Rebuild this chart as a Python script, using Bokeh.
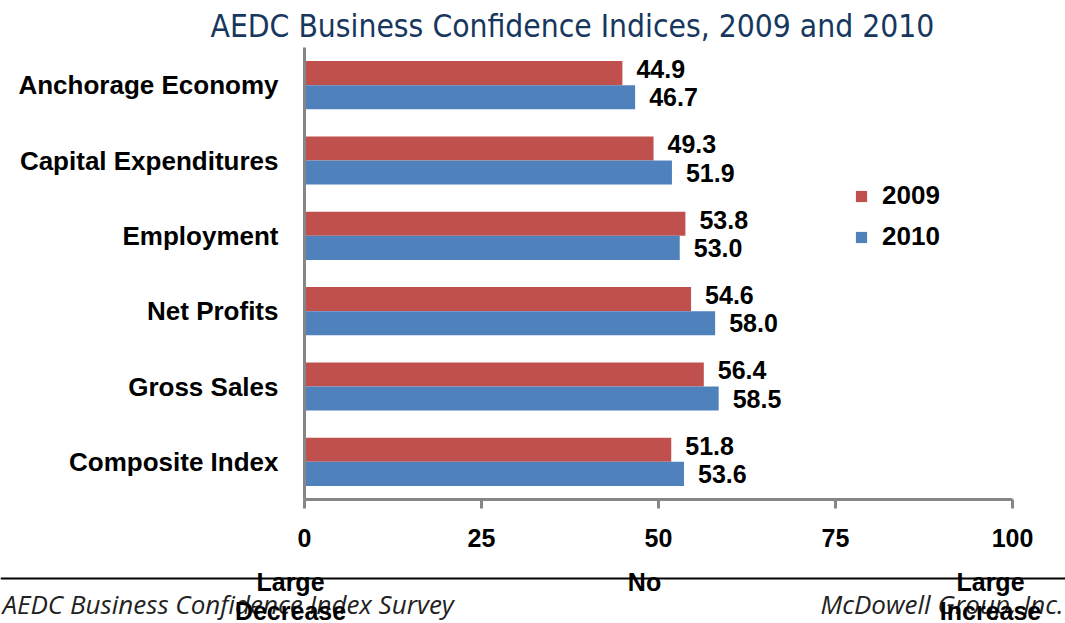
from bokeh.plotting import figure
from bokeh.layouts import column
from bokeh.models import (FactorRange, Label, Legend, LegendItem, FixedTicker,
                          Span, ColumnDataSource, Range1d)
from bokeh.transform import dodge
from bokeh.core.properties import value
from bokeh.embed import file_html
from bokeh.resources import INLINE

categories = ["Anchorage Economy", "Capital Expenditures", "Employment",
              "Net Profits", "Gross Sales", "Composite Index"]
values_2009 = [44.9, 49.3, 53.8, 54.6, 56.4, 51.8]
values_2010 = [46.7, 51.9, 53.0, 58.0, 58.5, 53.6]
x_ticks = [0, 25, 50, 75, 100]
scale_positions = [0, 50, 100]
scale_labels = ["Large\nDecrease", "No", "Large\nIncrease"]
title_text = "AEDC Business Confidence Indices, 2009 and 2010"
footer_left = "AEDC Business Confidence Index Survey"
footer_right = "McDowell Group, Inc."

RED = "#C0504D"
BLUE = "#4F81BD"
GRAY = "#868686"
BOLD = "Liberation Sans"

W = 1065
H_MAIN = 560
H_FOOT = 63
FRAME_L, FRAME_R = 304, 53
PX_PER_UNIT = (W - FRAME_L - FRAME_R) / 100.0

src = ColumnDataSource(dict(cat=categories, v09=values_2009, v10=values_2010,
                            t09=[f"{v:.1f}" for v in values_2009],
                            t10=[f"{v:.1f}" for v in values_2010]))

p = figure(width=W, height=H_MAIN, output_backend="svg", toolbar_location=None,
           y_range=FactorRange(factors=list(reversed(categories))),
           x_range=(0, 100),
           min_border_left=FRAME_L, min_border_right=FRAME_R,
           min_border_top=47, min_border_bottom=H_MAIN - 499)
p.frame_align = False
p.outline_line_color = None
p.grid.grid_line_color = None

p.title.text = title_text
p.title.align = "left"
p.title.offset = -94
p.title.standoff = 7
p.title.text_font = "DejaVu Sans Condensed"
p.title.text_font_style = "normal"
p.title.text_font_size = "31.5px"
p.title.text_color = "#17375E"

r09 = p.hbar(y=dodge("cat", 0.16, range=p.y_range), right="v09", left=0, height=0.32,
             source=src, fill_color=RED, line_color=None)
r10 = p.hbar(y=dodge("cat", -0.16, range=p.y_range), right="v10", left=0, height=0.32,
             source=src, fill_color=BLUE, line_color=None)

p.text(x="v09", y=dodge("cat", 0.16, range=p.y_range), text="t09", source=src,
       x_offset=14, y_offset=-4, text_baseline="middle", text_align="left",
       text_font=value(BOLD), text_font_style="bold", text_font_size="25px", text_color="black")
p.text(x="v10", y=dodge("cat", -0.16, range=p.y_range), text="t10", source=src,
       x_offset=14, y_offset=0, text_baseline="middle", text_align="left",
       text_font=value(BOLD), text_font_style="bold", text_font_size="25px", text_color="black")

xa = p.xaxis[0]
xa.ticker = FixedTicker(ticks=x_ticks)
xa.axis_line_color = GRAY
xa.axis_line_width = 3
xa.major_tick_line_color = GRAY
xa.major_tick_line_width = 3
xa.major_tick_out = 9
xa.major_tick_in = 0
xa.minor_tick_line_color = None
xa.major_label_standoff = 20
xa.major_label_text_font = BOLD
xa.major_label_text_font_style = "bold"
xa.major_label_text_font_size = "25px"
xa.major_label_text_color = "black"

ya = p.yaxis[0]
ya.axis_line_color = GRAY
ya.axis_line_width = 3
ya.major_tick_line_color = None
ya.minor_tick_line_color = None
ya.major_label_standoff = 20
ya.major_label_text_font = BOLD
ya.major_label_text_font_style = "bold"
ya.major_label_text_font_size = "26px"
ya.major_label_text_color = "black"

legend = Legend(items=[LegendItem(label="2009", renderers=[r09]),
                       LegendItem(label="2010", renderers=[r10])],
                location=(550, 247), orientation="vertical",
                glyph_width=14, glyph_height=14, label_standoff=14,
                label_text_font=BOLD, label_text_font_style="bold",
                label_text_font_size="26px", label_text_color="black",
                label_height=26, spacing=10,
                padding=0, margin=0, border_line_color=None, background_fill_alpha=0)
p.add_layout(legend, "center")

# footer strip: same horizontal scale as the chart's value axis
x0 = -FRAME_L / PX_PER_UNIT
f = figure(width=W, height=H_FOOT, output_backend="svg", toolbar_location=None,
           x_range=Range1d(x0, x0 + W / PX_PER_UNIT), y_range=Range1d(H_FOOT, 0),
           x_axis_type=None, y_axis_type=None,
           min_border=0, min_border_left=0, min_border_right=0,
           min_border_top=0, min_border_bottom=0)
f.frame_align = False
f.outline_line_color = None
f.grid.grid_line_color = None
f.add_layout(Span(location=18, dimension="width", line_color="black", line_width=2))

f.add_layout(Label(x=2, y=43, x_units="screen", y_units="data", text=footer_left,
                   text_align="left", text_baseline="middle",
                   text_font="Open Sans", text_font_style="italic",
                   text_font_size="26px", text_color="#222222"))
f.add_layout(Label(x=W - 2, y=43, x_units="screen", y_units="data", text=footer_right,
                   text_align="right", text_baseline="middle",
                   text_font="Open Sans", text_font_style="italic",
                   text_font_size="26px", text_color="#222222"))

shifts = [-14, -14, -22]
for pos, t, dx in zip(scale_positions, scale_labels, shifts):
    f.add_layout(Label(x=pos, y=7, x_units="data", y_units="data", text=t,
                       x_offset=dx, text_align="center", text_baseline="top",
                       text_font=BOLD, text_font_style="bold",
                       text_font_size="25px", text_color="black", text_line_height=1.05))

layout = column(p, f, spacing=0)
open("out.html", "w").write(file_html(layout, INLINE))
